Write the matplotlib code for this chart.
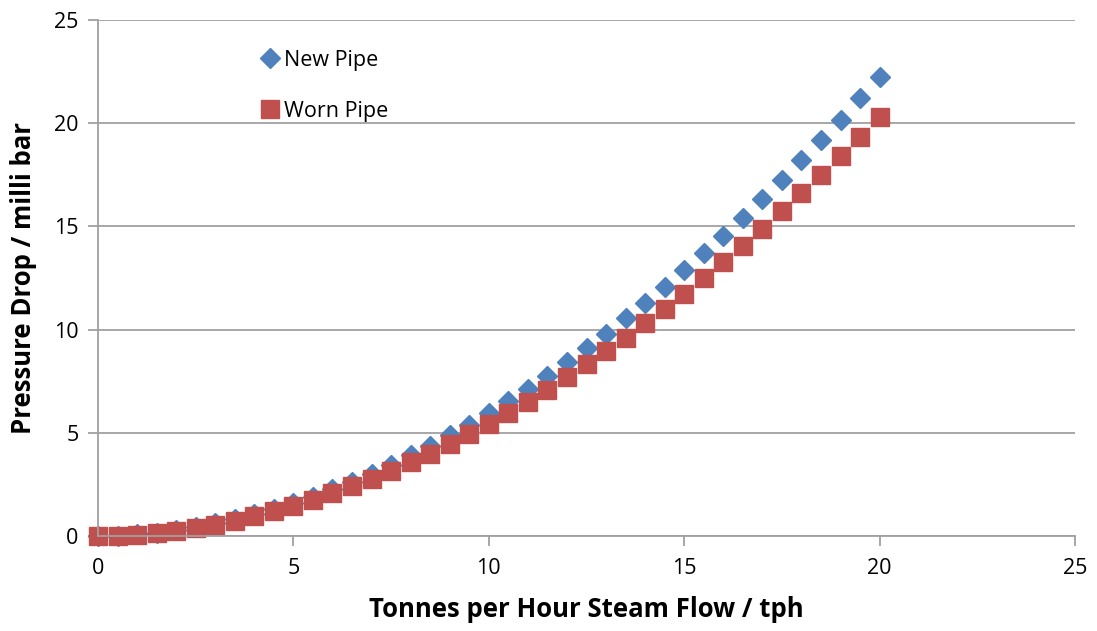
import matplotlib
matplotlib.use("Agg")
import matplotlib.pyplot as plt

# steam flow, tph
flow = [i * 0.5 for i in range(41)]

# pressure drop, milli bar
new_pipe = [0.0, 0.02, 0.08, 0.16, 0.28, 0.43, 0.61, 0.81, 1.05, 1.31,
            1.60, 1.91, 2.26, 2.63, 3.02, 3.45, 3.90, 4.38, 4.88, 5.40,
            5.96, 6.54, 7.14, 7.77, 8.42, 9.11, 9.81, 10.54, 11.29, 12.07,
            12.87, 13.71, 14.55, 15.42, 16.33, 17.25, 18.21, 19.18, 20.17, 21.20,
            22.25]
worn_pipe = [0.0, 0.02, 0.07, 0.15, 0.26, 0.39, 0.55, 0.74, 0.95, 1.19,
             1.46, 1.75, 2.06, 2.40, 2.76, 3.15, 3.56, 3.99, 4.45, 4.93,
             5.44, 5.96, 6.51, 7.09, 7.68, 8.31, 8.95, 9.61, 10.30, 11.01,
             11.74, 12.50, 13.27, 14.06, 14.89, 15.73, 16.61, 17.49, 18.40, 19.33,
             20.30]

xticks = [0, 5, 10, 15, 20, 25]
yticks = [0, 5, 10, 15, 20, 25]

plt.rcParams['font.family'] = ['Open Sans', 'DejaVu Sans']

fig = plt.figure(figsize=(10.97, 6.31), dpi=100)
ax = fig.add_axes([0.0893, 0.1506, 0.8907, 0.8177])

ax.plot(flow, new_pipe, linestyle='none', marker='D', markersize=10.5,
        color='#4F81BD', label='New Pipe')
ax.plot(flow, worn_pipe, linestyle='none', marker='s', markersize=13.5,
        color='#C0504D', label='Worn Pipe')

ax.set_xlim(0, 25)
ax.set_ylim(0, 25)
ax.set_xticks(xticks)
ax.set_yticks(yticks)
for ln in ax.lines:
    ln.set_clip_on(False)

ax.grid(axis='y', color='#A0A0A0', linewidth=1.3)
ax.set_axisbelow(True)
for s in ['top', 'right']:
    ax.spines[s].set_visible(False)
for s in ['left', 'bottom']:
    ax.spines[s].set_color('#A0A0A0')
    ax.spines[s].set_linewidth(1.3)
ax.tick_params(axis='both', colors='#A0A0A0', length=7, width=1.3,
               labelcolor='black', labelsize=15.5)
ax.tick_params(axis='x', pad=9)
ax.tick_params(axis='y', pad=7)

ax.set_xlabel('Tonnes per Hour Steam Flow / tph', fontsize=18.5,
              fontweight='bold', labelpad=12)
ax.set_ylabel('Pressure Drop / milli bar', fontsize=18.5,
              fontweight='bold', labelpad=12)

ax.legend(loc='upper left', bbox_to_anchor=(0.145, 0.98), frameon=False,
          fontsize=15.5, handletextpad=0.15, labelspacing=1.4,
          handlelength=1.0, markerscale=1.0)

fig.savefig('out.png', dpi=100)
